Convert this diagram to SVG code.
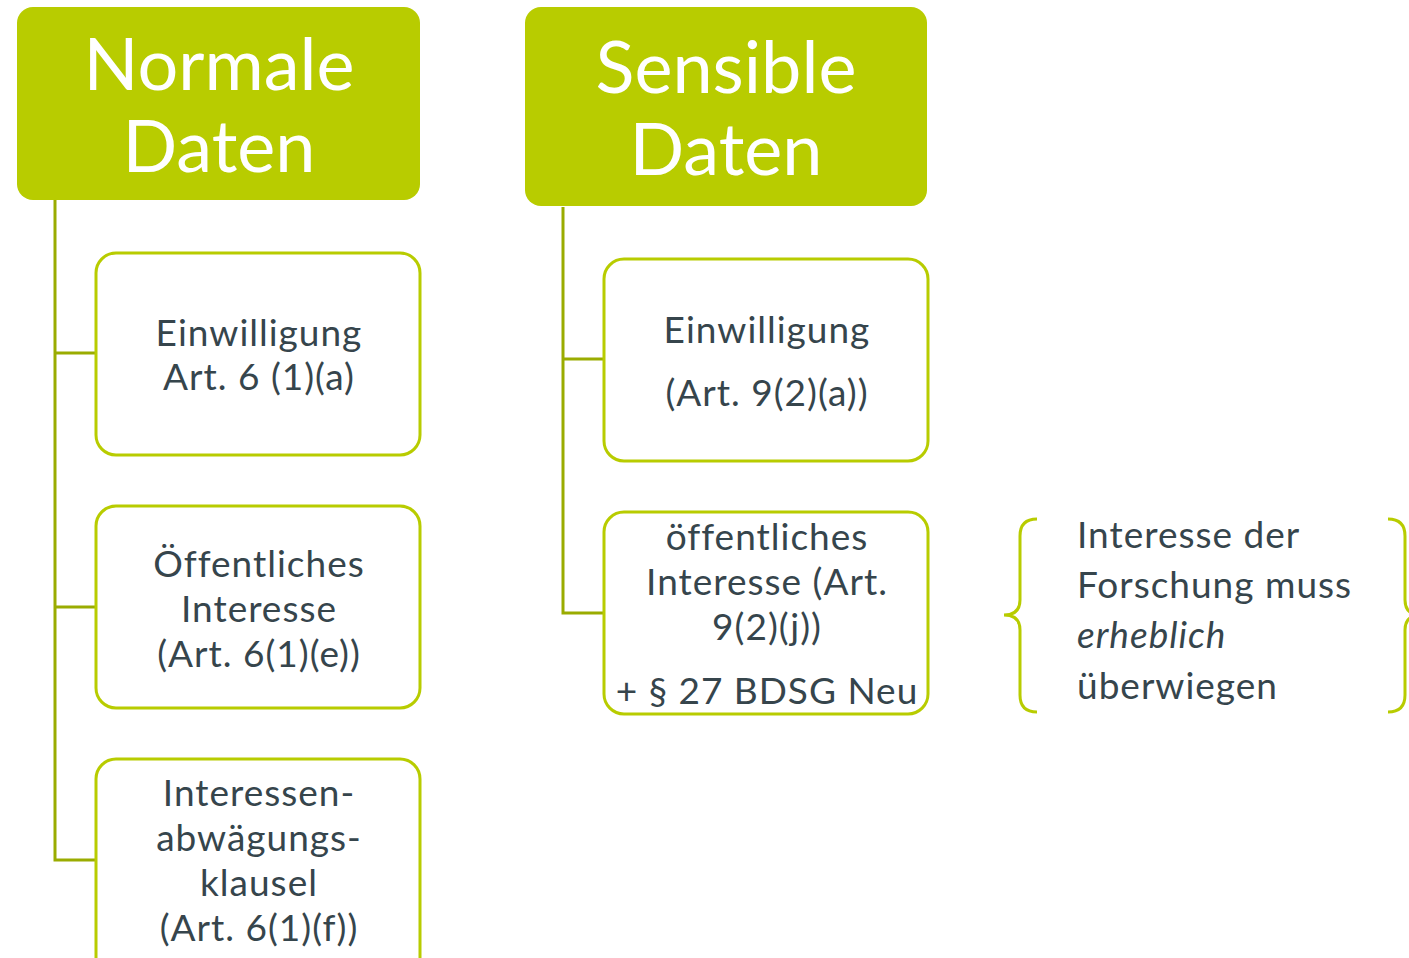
<svg xmlns="http://www.w3.org/2000/svg" width="1409" height="958" viewBox="0 0 1409 958">
<style>
.hdr{fill:#b8cc00;}
.box{fill:#fff;stroke:#b8cc00;stroke-width:3;}
.conn{fill:none;stroke:#9aac00;stroke-width:3;}
.brace{fill:none;stroke:#b8cc00;stroke-width:3;}
.ht{font-family:Lato,"Open Sans",sans-serif;font-size:72px;fill:#fff;text-anchor:middle;}
.bt{font-family:Lato,"Open Sans",sans-serif;font-size:37px;letter-spacing:1px;fill:#36454c;text-anchor:middle;}
.nt{font-family:Lato,"Open Sans",sans-serif;font-size:37px;letter-spacing:1px;fill:#36454c;}
</style>
<rect width="1409" height="958" fill="#fff"/>
<g id="connectors">
<path class="conn" d="M55,200 V860 H96 M55,353 H96 M55,607 H96"/>
<path class="conn" d="M563,207 V613 H604 M563,359 H604"/>
</g>
<g id="normale">
<rect class="hdr" x="17" y="7" width="403" height="193" rx="16"/>
<text class="ht" x="219" y="90">Normale</text>
<text class="ht" x="219" y="172">Daten</text>
</g>
<g id="sensible">
<rect class="hdr" x="525" y="7" width="402" height="199" rx="16"/>
<text class="ht" x="726" y="93">Sensible</text>
<text class="ht" x="726" y="175">Daten</text>
</g>
<g id="n1">
<rect class="box" x="96" y="253" width="324" height="202" rx="20"/>
<text class="bt" x="259" y="346">Einwilligung</text>
<text class="bt" x="259" y="390">Art. 6 (1)(a)</text>
</g>
<g id="n2">
<rect class="box" x="96" y="506" width="324" height="202" rx="20"/>
<text class="bt" x="259" y="577">Öffentliches</text>
<text class="bt" x="259" y="622">Interesse</text>
<text class="bt" x="259" y="667">(Art. 6(1)(e))</text>
</g>
<g id="n3">
<rect class="box" x="96" y="759" width="324" height="220" rx="20"/>
<text class="bt" x="259" y="806">Interessen-</text>
<text class="bt" x="259" y="851">abwägungs-</text>
<text class="bt" x="259" y="896">klausel</text>
<text class="bt" x="259" y="941">(Art. 6(1)(f))</text>
</g>
<g id="s1">
<rect class="box" x="604" y="259" width="324" height="202" rx="20"/>
<text class="bt" x="767" y="343">Einwilligung</text>
<text class="bt" x="767" y="406">(Art. 9(2)(a))</text>
</g>
<g id="s2">
<rect class="box" x="604" y="512" width="324" height="202" rx="20"/>
<text class="bt" x="767" y="550">öffentliches</text>
<text class="bt" x="767" y="595">Interesse (Art.</text>
<text class="bt" x="767" y="640">9(2)(j))</text>
<text class="bt" x="767" y="704">+ § 27 BDSG Neu</text>
</g>
<g id="note">
<path class="brace" d="M1037,519 Q1020,519 1020,536 V600 Q1020,615 1004,615 Q1020,615 1020,630 V695 Q1020,712 1037,712"/>
<path class="brace" d="M1388,519 Q1405,519 1405,536 V600 Q1405,615 1421,615 Q1405,615 1405,630 V695 Q1405,712 1388,712"/>
<text class="nt" x="1077" y="548">Interesse der</text>
<text class="nt" x="1077" y="598">Forschung muss</text>
<text class="nt" x="1077" y="648" font-style="italic">erheblich</text>
<text class="nt" x="1077" y="699">überwiegen</text>
</g>
</svg>
